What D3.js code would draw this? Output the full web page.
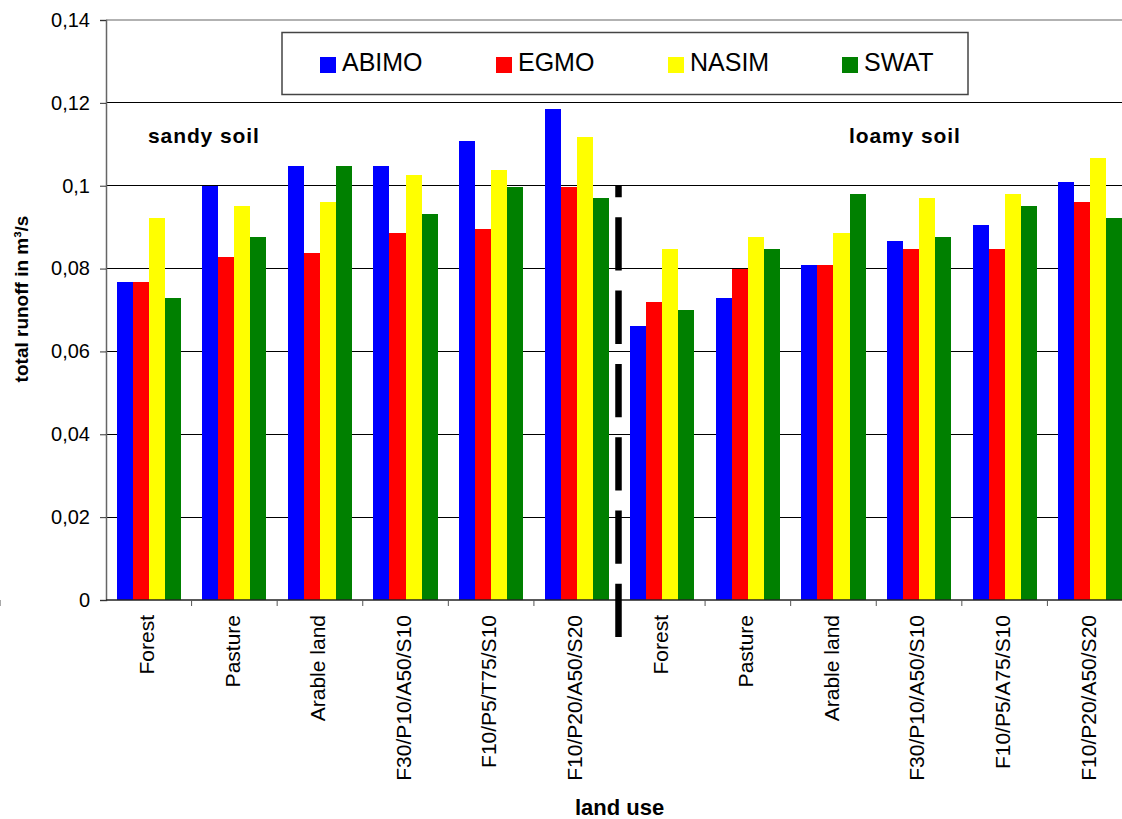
<!DOCTYPE html>
<html>
<head>
<meta charset="utf-8">
<script src="https://cdn.jsdelivr.net/npm/d3@7"></script>
<style>
  html, body { margin: 0; padding: 0; background: #fff; overflow: hidden; }
  svg { display: block; font-family: "Liberation Sans", Arial, sans-serif; }
</style>
</head>
<body>
<svg id="chart" width="1122" height="819"></svg>
<script>
const categories = ["Forest","Pasture","Arable land","F30/P10/A50/S10","F10/P5/T75/S10","F10/P20/A50/S20",
                    "Forest","Pasture","Arable land","F30/P10/A50/S10","F10/P5/A75/S10","F10/P20/A50/S20"];
const seriesNames = ["ABIMO","EGMO","NASIM","SWAT"];
const seriesColors = ["#0000ff","#ff0000","#ffff00","#008000"];
const abimo = [0.0767,0.1000,0.1047,0.1047,0.1107,0.1184,0.0661,0.0728,0.0808,0.0866,0.0904,0.1008];
const egmo  = [0.0767,0.0827,0.0837,0.0885,0.0895,0.0998,0.0719,0.0798,0.0808,0.0847,0.0847,0.0960];
const nasim = [0.0921,0.0950,0.0960,0.1027,0.1037,0.1117,0.0847,0.0876,0.0885,0.0970,0.0979,0.1068];
const swat  = [0.0728,0.0876,0.1047,0.0931,0.0998,0.0970,0.0699,0.0847,0.0979,0.0876,0.0950,0.0921];
const yTickValues = [0,0.02,0.04,0.06,0.08,0.1,0.12,0.14];
const yTickLabels = ["0","0,02","0,04","0,06","0,08","0,1","0,12","0,14"];
const soilLabels = ["sandy soil","loamy soil"];

(function () {
const seriesValues = [abimo, egmo, nasim, swat];
const svg = d3.select("#chart");
const pL = 106, pR = 1133, pT = 20, pB = 600;

const x0 = d3.scaleBand().domain(d3.range(categories.length)).range([pL, pR])
  .paddingInner(0.25).paddingOuter(0.125);
const x1 = d3.scaleBand().domain(d3.range(seriesNames.length)).range([0, x0.bandwidth()]);
const y = d3.scaleLinear().domain([0, 0.14]).range([pB, pT]);
const step = x0.step();
const boundary = i => x0(i) - step * 0.125;

// gridlines
svg.append("g").selectAll("line").data(yTickValues.filter(v => v > 0 && v < 0.14)).join("line")
  .attr("x1", pL).attr("x2", pR).attr("y1", d => y(d)).attr("y2", d => y(d))
  .attr("stroke", "#000").attr("stroke-width", 1).attr("shape-rendering", "crispEdges");
// top border
svg.append("line").attr("x1", pL).attr("x2", pR).attr("y1", y(0.14)).attr("y2", y(0.14))
  .attr("stroke", "#999").attr("stroke-width", 1.5);

// bars
const groups = svg.append("g").selectAll("g").data(categories.map((c, i) => i)).join("g")
  .attr("transform", i => `translate(${x0(i)},0)`);
groups.selectAll("rect").data(i => seriesValues.map((s, k) => ({k, v: s[i]}))).join("rect")
  .attr("x", d => x1(d.k)).attr("width", x1.bandwidth())
  .attr("y", d => y(d.v)).attr("height", d => y(0) - y(d.v))
  .attr("fill", d => seriesColors[d.k]).attr("shape-rendering", "crispEdges");

// y axis
const yAxis = d3.axisLeft(y).tickValues(yTickValues).tickFormat((d, i) => yTickLabels[i]).tickSize(6).tickPadding(10);
const gy = svg.append("g").attr("transform", `translate(${pL},0)`).call(yAxis);
gy.select(".domain").attr("stroke", "#666").attr("stroke-width", 1.5);
gy.selectAll(".tick line").attr("stroke", "#333");
gy.selectAll(".tick text").attr("font-size", 20).attr("fill", "#000")
  .attr("font-family", "'Liberation Sans', Arial, sans-serif");

// x axis line
svg.append("line").attr("x1", pL).attr("x2", pR).attr("y1", pB).attr("y2", pB)
  .attr("stroke", "#222").attr("stroke-width", 1.5);
// x ticks at boundaries
svg.append("g").selectAll("line").data(d3.range(1, categories.length + 1)).join("line")
  .attr("x1", i => boundary(i)).attr("x2", i => boundary(i))
  .attr("y1", pB).attr("y2", pB + 6).attr("stroke", "#555").attr("stroke-width", 1);

// x labels
svg.append("g").selectAll("text").data(categories).join("text")
  .attr("transform", (d, i) => `translate(${x0(i) + x0.bandwidth() / 2 - 2},${pB + 15}) rotate(-90)`)
  .attr("text-anchor", "end").attr("dy", "0.35em")
  .attr("font-size", 21).attr("fill", "#000").text(d => d);

// dashed separator
const sepX = boundary(6) - 1;
svg.append("line").attr("x1", sepX).attr("x2", sepX).attr("y1", 185).attr("y2", 638)
  .attr("stroke", "#000").attr("stroke-width", 6.5)
  .attr("stroke-dasharray", "53.3,20").attr("stroke-dashoffset", 41);

// soil labels
svg.append("text").attr("x", 148).attr("y", 143).attr("font-size", 21).attr("font-weight", "bold")
  .attr("letter-spacing", 0.9).text(soilLabels[0]);
svg.append("text").attr("x", 849).attr("y", 143).attr("font-size", 21).attr("font-weight", "bold")
  .attr("letter-spacing", 0.9).text(soilLabels[1]);

// axis titles
svg.append("text").attr("transform", "translate(28,299) rotate(-90)").attr("text-anchor", "middle")
  .attr("font-size", 19).attr("font-weight", "bold").text("total runoff in m³/s");
svg.append("text").attr("x", (pL + pR) / 2).attr("y", 815).attr("text-anchor", "middle")
  .attr("font-size", 22).attr("font-weight", "bold").text("land use");

// legend
const lg = svg.append("g");
lg.append("rect").attr("x", 282).attr("y", 32.5).attr("width", 686).attr("height", 62)
  .attr("fill", "#fff").attr("stroke", "#444").attr("stroke-width", 1.5);
const legendX = [320, 496, 668, 842];
const items = lg.selectAll("g.item").data(seriesNames).join("g").attr("class", "item")
  .attr("transform", (d, i) => `translate(${legendX[i]},57)`);
items.append("rect").attr("width", 16).attr("height", 16).attr("fill", (d, i) => seriesColors[i]);
items.append("text").attr("x", 22).attr("y", 13.5).attr("font-size", 25).attr("fill", "#000").text(d => d);
})();
</script>
</body>
</html>
